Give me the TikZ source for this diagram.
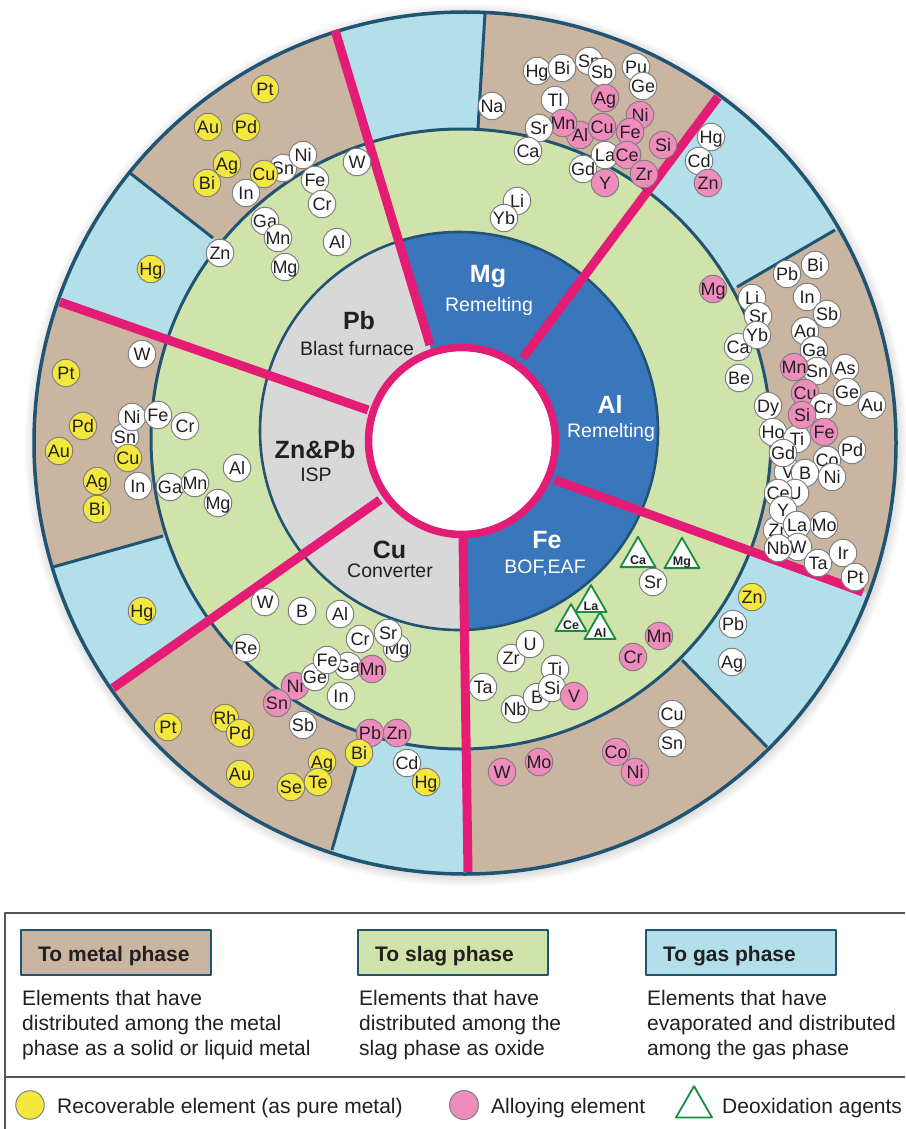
\documentclass[tikz,border=0pt]{standalone}
\usepackage{fontspec}
\setmainfont{Liberation Sans}
\usetikzlibrary{shapes.geometric}
\definecolor{brn}{RGB}{202,182,160}
\definecolor{lbl}{RGB}{178,223,233}
\definecolor{grn}{RGB}{207,227,171}
\definecolor{gry}{RGB}{216,216,216}
\definecolor{dbl}{RGB}{58,118,188}
\definecolor{nav}{RGB}{32,84,114}
\definecolor{pkl}{RGB}{228,28,118}
\definecolor{pkc}{RGB}{238,141,188}
\definecolor{yel}{RGB}{244,232,62}
\definecolor{elb}{RGB}{128,128,128}
\definecolor{txt}{RGB}{35,31,32}
\definecolor{trg}{RGB}{24,140,62}
\definecolor{legl}{RGB}{85,85,85}
\newcommand\eltxt[1]{\smash{\raisebox{-6.45pt}{\makebox[0pt]{#1}}}}
\newcommand\tritxt[1]{\smash{\raisebox{-7.5pt}{\makebox[0pt]{\bfseries #1}}}}
\newcommand\EL[4]{\node[#1] (#2) at (#3) {\eltxt{#4}};}
\newcommand\TR[4]{\node[tri,minimum size=#1] (#2) at (#3) {\tritxt{#4}};}
\tikzset{
  el/.style={circle, draw=elb, line width=1pt, fill=white, inner sep=0pt, minimum size=27.5pt, text=txt, font=\fontsize{18}{18}\selectfont},
  ye/.style={el, fill=yel},
  pk/.style={el, fill=pkc},
  tri/.style={regular polygon, regular polygon sides=3, draw=trg, line width=1.8pt, fill=white, inner sep=0pt, text=txt, font=\fontsize{12.5}{12.5}\selectfont},
  navline/.style={nav, line width=3pt},
  pinkline/.style={pkl, line width=9pt},
  bigl/.style={anchor=base, inner sep=0pt, font=\fontsize{25}{25}\selectfont\bfseries},
  subl/.style={anchor=base, inner sep=0pt, font=\fontsize{19.5}{20}\selectfont},
  hdrbox/.style={draw=nav, line width=2.5pt, minimum width=190pt, minimum height=45pt, inner sep=0pt},
  hdrtxt/.style={anchor=base west, inner sep=0pt, text=txt, font=\fontsize{21}{21}\selectfont\bfseries},
  legtxt/.style={anchor=base west, inner sep=0pt, text=txt, font=\fontsize{21}{21}\selectfont},
}
\begin{document}
\begin{tikzpicture}[x=1pt, y=-1pt, line join=round]
\useasboundingbox (0,0) rectangle (905,1129);
\fill[white] (0,0) rectangle (905,1129);
% shadow
\foreach \i in {1,...,8} {\fill[black, opacity=0.014] (466,445) circle[radius=431+1.3*\i];}
% outer ring
\fill[brn] (465,443) circle[radius=431];
\begin{scope}
  \clip (465,443) circle[radius=431];
  \fill[lbl] (478,128) -- (488,-37) -- (321,-18) -- (430,345) -- cycle;
  \fill[lbl] (737,287) -- (878,205) -- (748,57) -- (523,358) -- cycle;
  \fill[lbl] (682,660) -- (802,783) -- (910,609) -- (555,480) -- cycle;
  \fill[lbl] (357,763) -- (318,898) -- (469,922) -- (463,537) -- cycle;
  \fill[lbl] (163,536) -- (5,581) -- (72,717) -- (380,500) -- cycle;
  \fill[lbl] (213,238) -- (91,142) -- (13,285) -- (368,410) -- cycle;
\end{scope}
% green ring
\fill[grn] (461,439) circle[radius=310];
% inner ring
\fill[gry] (459,431) circle[radius=199];
\begin{scope}
  \clip (459,431) circle[radius=199];
  \fill[dbl] (430,345) -- (335,30) -- (905,0) -- (905,900) -- (468,872) -- (463,537) -- cycle;
\end{scope}
% navy separators
\draw[navline] (478,128) -- (485,13);
\draw[navline] (737,287) -- (835,230);
\draw[navline] (213,238) -- (130,173);
\draw[navline] (163,536) -- (53,567);
\draw[navline] (682,660) -- (767,747);
\draw[navline] (357,763) -- (332,850);
\draw[nav, line width=3.5pt] (465,443) circle[radius=431];
\draw[nav, line width=3pt] (461,439) circle[radius=310];
\draw[nav, line width=2.6pt] (459,431) circle[radius=199];
% pink separators
\draw[pinkline] (430,345) -- (335,30);
\draw[pinkline] (523,358) -- (718,97);
\draw[pinkline] (555,480) -- (863,592);
\draw[pinkline] (463,537) -- (468,872);
\draw[pinkline] (380,500) -- (113,688);
\draw[pinkline] (368,410) -- (60,302);
\fill[white] (462,441) circle[radius=90];
\draw[pkl, line width=7.5pt] (462,441) circle[radius=93.5];
% sector labels
\node[bigl, text=txt] (lPb) at (359,329.5) {Pb};
\node[subl, text=txt] (lPbs) at (357,355.5) {Blast furnace};
\node[bigl, text=txt] (lZn) at (315,458) {Zn\&Pb};
\node[subl, text=txt] (lZns) at (316,481) {ISP};
\node[bigl, text=txt] (lCu) at (389.5,558) {Cu};
\node[subl, text=txt] (lCus) at (390,577) {Converter};
\node[bigl, text=white] (lMg) at (488,282) {Mg};
\node[subl, text=white] (lMgs) at (489,311) {Remelting};
\node[bigl, text=white] (lAl) at (610,413) {Al};
\node[subl, text=white] (lAls) at (611,437) {Remelting};
\node[bigl, text=white] (lFe) at (547,548) {Fe};
\node[subl, text=white] (lFes) at (545,573) {BOF,EAF};
% ---- Pb sector
\EL{ye}{a1}{265,89}{Pt}
\EL{ye}{a2}{208,127}{Au}
\EL{ye}{a3}{246,127}{Pd}
\EL{ye}{a4}{207,183}{Bi}
\EL{ye}{a5}{227,164}{Ag}
\EL{el}{a6}{283,168}{Sn}
\EL{ye}{a7}{264,174}{Cu}
\EL{el}{a8}{303,155}{Ni}
\EL{el}{a9}{246,193}{In}
\EL{el}{a10}{315,180}{Fe}
\EL{el}{a11}{322,204}{Cr}
\EL{el}{a12}{357,162}{W}
\EL{el}{a13}{265,221}{Ga}
\EL{el}{a14}{278,238}{Mn}
\EL{el}{a15}{285,267}{Mg}
\EL{el}{a16}{220,253}{Zn}
\EL{el}{a17}{337,242}{Al}
\EL{ye}{a18}{151,269}{Hg}
% ---- Mg sector
\EL{el}{b1}{492,106}{Na}
\EL{el}{b2}{537,71}{Hg}
\EL{el}{b3}{562,68}{Bi}
\EL{el}{b4}{589,61}{Sn}
\EL{el}{b5}{602,72}{Sb}
\EL{el}{b6}{636,67}{Pu}
\EL{el}{b7}{643,86}{Ge}
\EL{el}{b8}{555,100}{Tl}
\EL{pk}{b9}{605,98}{Ag}
\EL{pk}{b10}{640,115}{Ni}
\EL{pk}{b11}{580,135}{Al}
\EL{pk}{b12}{563,123}{Mn}
\EL{el}{b13}{539,128}{Sr}
\EL{pk}{b14}{602,127}{Cu}
\EL{pk}{b15}{630,132}{Fe}
\EL{pk}{b16}{663,145}{Si}
\EL{el}{b17}{528,151}{Ca}
\EL{el}{b18}{605,155}{La}
\EL{pk}{b19}{627,155}{Ce}
\EL{el}{b20}{583,169}{Gd}
\EL{pk}{b21}{605,183}{Y}
\EL{pk}{b22}{644,174}{Zr}
\EL{el}{b23}{517,201}{Li}
\EL{el}{b24}{504,218}{Yb}
% ---- Al sector
\EL{el}{c1}{711,137}{Hg}
\EL{el}{c2}{699,161}{Cd}
\EL{pk}{c3}{708,183}{Zn}
\EL{pk}{c4}{713,289}{Mg}
\EL{el}{c5}{787,274}{Pb}
\EL{el}{c6}{815,265}{Bi}
\EL{el}{c7}{752,298}{Li}
\EL{el}{c8}{738,347}{Ca}
\EL{el}{c9}{758,316}{Sr}
\EL{el}{c10}{757,335}{Yb}
\EL{el}{c11}{739,378}{Be}
\EL{el}{c12}{807,297}{In}
\EL{el}{c13}{827,314}{Sb}
\EL{el}{c14}{805,331}{Ag}
\EL{el}{c15}{814,350}{Ga}
\EL{el}{c16}{817,371}{Sn}
\EL{pk}{c17}{794,367}{Mn}
\EL{el}{c18}{845,368}{As}
\EL{el}{c19}{847,392}{Ge}
\EL{el}{c20}{872,405}{Au}
\EL{pk}{c21}{805,393}{Cu}
\EL{el}{c22}{823,407}{Cr}
\EL{el}{c25}{768,406}{Dy}
\EL{el}{c26}{773,432}{Ho}
\EL{el}{c27}{788,472}{V}
\EL{el}{c28}{797,439}{Ti}
\EL{el}{c29}{783,453}{Gd}
\EL{pk}{c23}{802,415}{Si}
\EL{pk}{c24}{824,432}{Fe}
\EL{el}{c30}{827,460}{Co}
\EL{el}{c31}{805,473}{B}
\EL{el}{c32}{832,477}{Ni}
\EL{el}{c33}{852,450}{Pd}
\EL{el}{c35}{795,493}{U}
\EL{el}{c34}{778,493}{Ce}
\EL{el}{c36}{777,530}{Zr}
\EL{el}{c37}{783,510}{Y}
\EL{el}{c38}{797,525}{La}
\EL{el}{c39}{824,525}{Mo}
\EL{el}{c41}{798,547}{W}
\EL{el}{c40}{778,548}{Nb}
\EL{el}{c42}{818,563}{Ta}
\EL{el}{c43}{843,553}{Ir}
\EL{el}{c44}{855,577}{Pt}
% ---- Fe sector
\TR{40.4pt}{d1}{638,557}{Ca}
\TR{40.4pt}{d2}{682,558}{Mg}
\EL{el}{d3}{653,582}{Sr}
\EL{ye}{d4}{752,597}{Zn}
\EL{el}{d5}{733,624}{Pb}
\EL{el}{d6}{732,662}{Ag}
\EL{pk}{d7}{659,636}{Mn}
\EL{pk}{d8}{633,657}{Cr}
\TR{35.8pt}{d9}{591,603}{La}
\TR{35.8pt}{d10}{571,622}{Ce}
\TR{35.8pt}{d11}{600,630}{Al}
\EL{el}{d12}{672,714}{Cu}
\EL{el}{d13}{672,743}{Sn}
\EL{pk}{d14}{616,752}{Co}
\EL{pk}{d15}{635,772}{Ni}
\EL{pk}{d16}{502,772}{W}
\EL{pk}{d17}{539,762}{Mo}
\EL{el}{d18}{483,687}{Ta}
\EL{el}{d19}{511,658}{Zr}
\EL{el}{d20}{530,644}{U}
\EL{el}{d21}{555,669}{Ti}
\EL{el}{d22}{515,709}{Nb}
\EL{el}{d23}{537,697}{B}
\EL{el}{d24}{552,688}{Si}
\EL{pk}{d25}{574,696}{V}
% ---- Cu sector
\EL{el}{e1}{265,602}{W}
\EL{el}{e2}{302,611}{B}
\EL{el}{e3}{340,614}{Al}
\EL{el}{e4}{360,639}{Cr}
\EL{el}{e5}{397,648}{Mg}
\EL{el}{e6}{388,633}{Sr}
\EL{el}{e7}{246,648}{Re}
\EL{pk}{e8}{295,686}{Ni}
\EL{pk}{e9}{277,703}{Sn}
\EL{el}{e10}{315,677}{Ge}
\EL{el}{e11}{348,666}{Ga}
\EL{el}{e12}{327,660}{Fe}
\EL{pk}{e13}{372,669}{Mn}
\EL{el}{e14}{341,696}{In}
\EL{el}{e15}{303,725}{Sb}
\EL{pk}{e16}{370,733}{Pb}
\EL{pk}{e17}{397,733}{Zn}
\EL{ye}{e18}{359,753}{Bi}
\EL{el}{e19}{407,763}{Cd}
\EL{ye}{e20}{426,782}{Hg}
\EL{ye}{e21}{322,762}{Ag}
\EL{ye}{e22}{291,787}{Se}
\EL{ye}{e23}{318,782}{Te}
\EL{ye}{e24}{168,727}{Pt}
\EL{ye}{e25}{225,718}{Rh}
\EL{ye}{e26}{240,733}{Pd}
\EL{ye}{e27}{240,774}{Au}
% ---- Zn&Pb sector
\EL{ye}{f1}{66,373}{Pt}
\EL{el}{f2}{142,354}{W}
\EL{ye}{f3}{83,426}{Pd}
\EL{ye}{f4}{59,451}{Au}
\EL{el}{f5}{125,437}{Sn}
\EL{el}{f6}{132,417}{Ni}
\EL{el}{f7}{158,415}{Fe}
\EL{el}{f8}{185,426}{Cr}
\EL{ye}{f9}{128,458}{Cu}
\EL{ye}{f10}{97,509}{Bi}
\EL{ye}{f11}{97,481}{Ag}
\EL{el}{f12}{138,486}{In}
\EL{el}{f13}{170,487}{Ga}
\EL{el}{f14}{195,483}{Mn}
\EL{el}{f15}{218,503}{Mg}
\EL{el}{f16}{237,468}{Al}
\EL{ye}{f17}{142,611}{Hg}
% ---- legend
\draw[legl, line width=1.5pt] (5,1129) -- (5,913) -- (905,913);
\draw[legl, line width=2pt] (5,1077) -- (905,1077);
\node[hdrbox, fill=brn] (h1) at (116,952.5) {};
\node[hdrbox, fill=grn] (h2) at (453,952.5) {};
\node[hdrbox, fill=lbl] (h3) at (741,952.5) {};
\node[hdrtxt] (h1t) at (38,961) {To metal phase};
\node[hdrtxt] (h2t) at (375,961) {To slag phase};
\node[hdrtxt] (h3t) at (663,961) {To gas phase};
\node[legtxt] (m1) at (22,1005) {Elements that have};
\node[legtxt] (m2) at (22,1030.5) {distributed among the metal};
\node[legtxt] (m3) at (22,1055.5) {phase as a solid or liquid metal};
\node[legtxt] (s1) at (359,1005) {Elements that have};
\node[legtxt] (s2) at (359,1030.5) {distributed among the};
\node[legtxt] (s3) at (359,1055.5) {slag phase as oxide};
\node[legtxt] (g1) at (647,1005) {Elements that have};
\node[legtxt] (g2) at (647,1030.5) {evaporated and distributed};
\node[legtxt] (g3) at (647,1055.5) {among the gas phase};
\node[ye, minimum size=28.5pt] (ly) at (30,1105) {};
\node[legtxt] (lyt) at (57,1113) {Recoverable element (as pure metal)};
\node[pk, minimum size=29pt] (lp) at (464,1105) {};
\node[legtxt] (lpt) at (491,1113) {Alloying element};
\node[tri, minimum size=41.6pt] (lt) at (694,1107) {};
\node[legtxt] (ltt) at (722,1113) {Deoxidation agents};
\end{tikzpicture}
\end{document}
